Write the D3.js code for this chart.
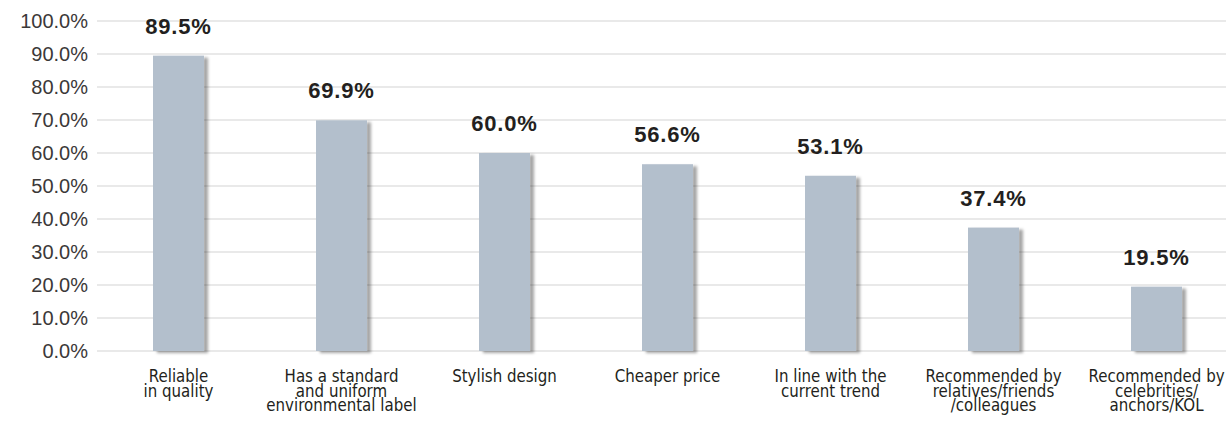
<!DOCTYPE html>
<html>
<head>
<meta charset="utf-8">
<script src="https://cdn.jsdelivr.net/npm/d3@7"></script>
<style>
  html, body { margin: 0; padding: 0; background: #ffffff; }
  svg { display: block; }
</style>
</head>
<body>
<svg id="chart" width="1226" height="421"></svg>
<script>
// Purchase-decision factors and share of respondents (%)
const categories = [
  ["Reliable", "in quality"],
  ["Has a standard", "and uniform", "environmental label"],
  ["Stylish design"],
  ["Cheaper price"],
  ["In line with the", "current trend"],
  ["Recommended by", "relatives/friends", "/colleagues"],
  ["Recommended by", "celebrities/", "anchors/KOL"]
];
const values = [89.5, 69.9, 60.0, 56.6, 53.1, 37.4, 19.5];
const tickValues = [0, 10, 20, 30, 40, 50, 60, 70, 80, 90, 100];

const svg = d3.select("#chart");
const W = 1226, H = 421;
const plot = { left: 97, right: 1238, top: 21, bottom: 351 };

const x = d3.scaleBand()
  .domain(d3.range(values.length))
  .range([plot.left, plot.right])
  .paddingInner(0.687)
  .paddingOuter(0.3435);

const y = d3.scaleLinear().domain([0, 100]).range([plot.bottom, plot.top]);

// soft drop shadow behind each bar
const defs = svg.append("defs");
const f = defs.append("filter").attr("id", "barShadow")
  .attr("x", "-20%").attr("y", "-10%").attr("width", "150%").attr("height", "130%");
f.append("feDropShadow")
  .attr("dx", 4).attr("dy", 2).attr("stdDeviation", 1.6)
  .attr("flood-color", "#000").attr("flood-opacity", 0.35);

// horizontal gridlines
svg.append("g").selectAll("line").data(tickValues).join("line")
  .attr("x1", plot.left).attr("x2", W)
  .attr("y1", d => y(d)).attr("y2", d => y(d))
  .attr("stroke", "#e2e2e2").attr("stroke-width", 1.5);

// y axis labels
const yAxis = d3.axisLeft(y).tickValues(tickValues)
  .tickFormat(d => d.toFixed(1) + "%").tickSize(0).tickPadding(0);
const gy = svg.append("g").attr("transform", `translate(${plot.left - 9},0)`).call(yAxis);
gy.select(".domain").remove();
gy.selectAll("text")
  .attr("font-family", "'Liberation Sans', Arial, sans-serif")
  .attr("font-size", 20).attr("fill", "#3b3838").attr("dy", "0.34em");

// bars
svg.append("g").selectAll("rect").data(values).join("rect")
  .attr("x", (d, i) => x(i))
  .attr("y", d => y(d))
  .attr("width", x.bandwidth())
  .attr("height", d => y(0) - y(d))
  .attr("fill", "#b3bfcc")
  .attr("filter", "url(#barShadow)");

// value labels
svg.append("g").selectAll("text").data(values).join("text")
  .attr("x", (d, i) => x(i) + x.bandwidth() / 2)
  .attr("y", d => y(d) - 22)
  .attr("text-anchor", "middle")
  .attr("font-family", "'Liberation Sans', Arial, sans-serif")
  .attr("font-weight", "bold").attr("font-size", 22)
  .attr("letter-spacing", 0.8)
  .attr("fill", "#231f20")
  .text(d => d.toFixed(1) + "%");

// category labels, horizontally squeezed for a condensed look
const cat = svg.append("g").selectAll("text").data(categories).join("text")
  .attr("transform", (d, i) => `translate(${x(i) + x.bandwidth() / 2},381.5) scale(0.86,1)`)
  .attr("text-anchor", "middle")
  .attr("font-family", "'DejaVu Sans', sans-serif")
  .attr("font-size", 17.5).attr("fill", "#231f20");
cat.selectAll("tspan").data(d => d).join("tspan")
  .attr("x", 0)
  .attr("dy", (d, i) => i === 0 ? 0 : 15)
  .text(d => d);
</script>
</body>
</html>
